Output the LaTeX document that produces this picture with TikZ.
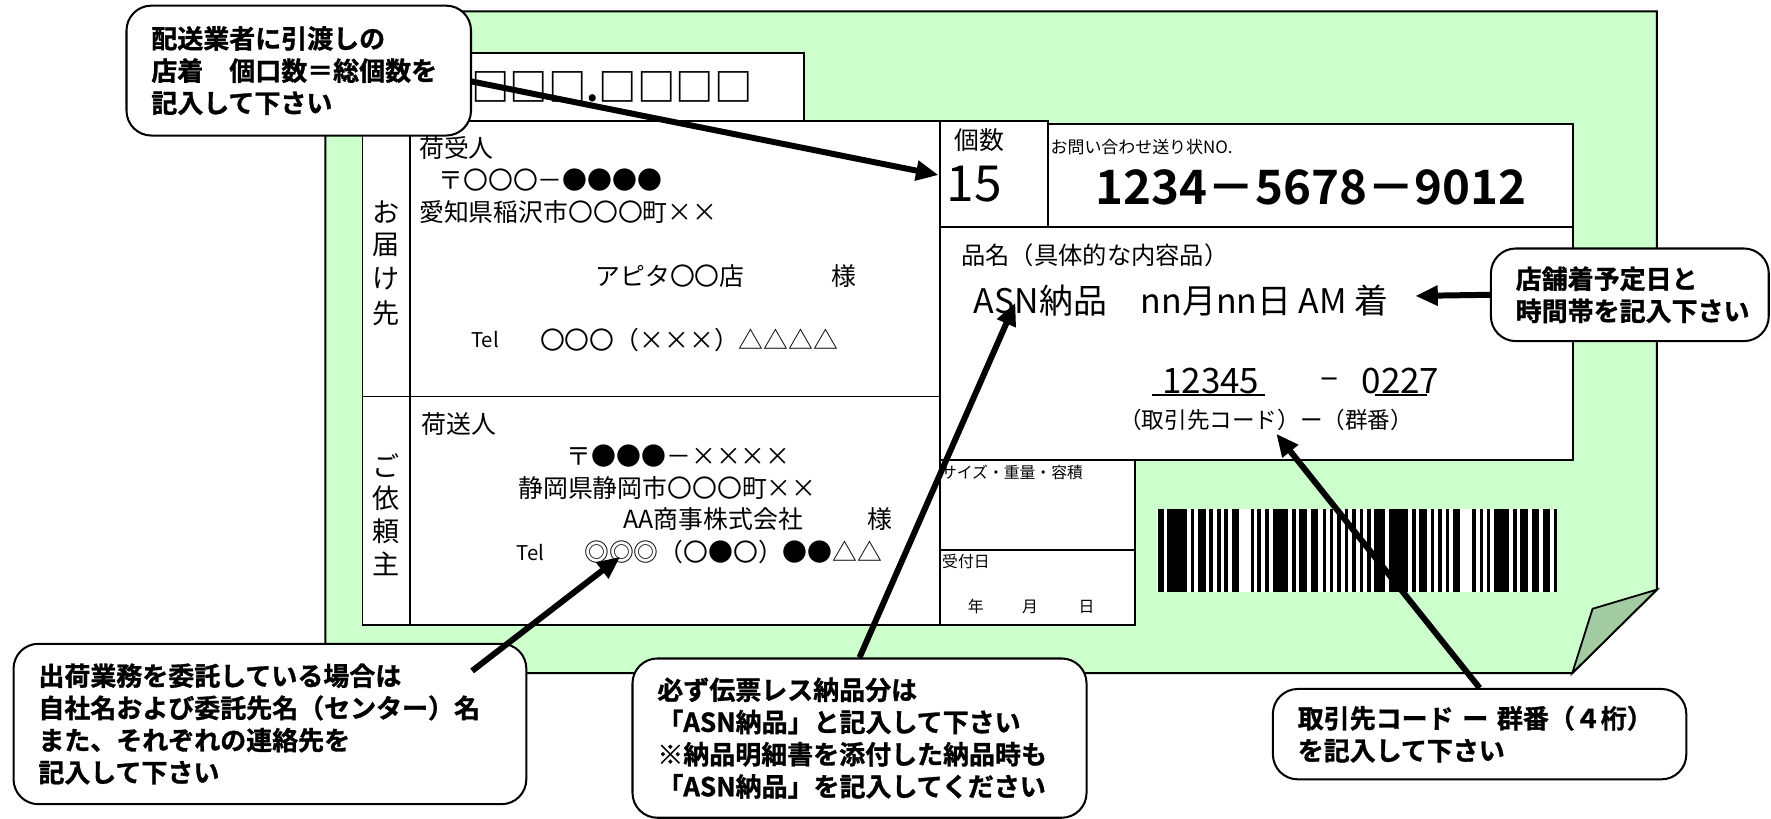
\documentclass[tikz,border=0pt]{standalone}
\usepackage{fontspec}
\setmainfont{Noto Sans CJK JP}[BoldFont=Noto Sans CJK JP Bold]
\newfontfamily\calloutfont{Noto Sans CJK JP Bold}[FakeBold=1.2]
\usetikzlibrary{arrows.meta}
\definecolor{cardgreen}{HTML}{CCFFCC}
\definecolor{foldgreen}{HTML}{A3CCA3}
\tikzset{
  card/.style={draw=black, line width=1.8pt, fill=cardgreen, line join=miter},
  fold/.style={draw=black, line width=1.6pt, fill=foldgreen},
  formbox/.style={draw=black, line width=1.6pt, fill=white},
  formline/.style={draw=black, line width=1.6pt},
  callout/.style={draw=black, line width=1.8pt, fill=white, rounded corners=22pt,
    inner xsep=22pt, inner ysep=0pt, align=left,
    font=\calloutfont\fontsize{23}{28.5}\selectfont},
  pointer/.style={line width=5.3pt, -{Triangle[length=20pt,width=17pt]}},
  ftext/.style={inner sep=0pt, anchor=west, font=\fontsize{22}{24}\selectfont},
  ctext/.style={inner sep=0pt, font=\fontsize{22}{24}\selectfont},
  vlabel/.style={inner sep=0pt, font=\fontsize{24}{26}\selectfont},
  smalltext/.style={inner sep=0pt, anchor=west, font=\fontsize{14}{16}\selectfont},
  bar/.style={fill=black, draw=none},
}
\begin{document}
\begin{tikzpicture}[x=1pt,y=-1pt]
\useasboundingbox (0,0) rectangle (1568,725);
\fill[white] (0,0) rectangle (1568,725);

% card
\draw[card] (288,10) -- (1467,10) -- (1467,522) -- (1392,596) -- (288,596) -- cycle;
\draw[fold] (1467,522) -- (1410,539) -- (1392,596) -- cycle;

% top number box
\draw[formbox] (380,47) rectangle (712,107);
\node[inner sep=0pt, anchor=west, font=\bfseries\fontsize{34}{36}\selectfont] (num) at (417,77) {□□□.□□□□};

% left block
\draw[formbox] (321,107) rectangle (832,553);
\draw[formline] (363,107) -- (363,553);
\draw[formline] (321,351) -- (832,351);

% right boxes
\draw[formbox] (832,107) rectangle (928,201);
\draw[formbox] (928,110) rectangle (1393,201);
\draw[formbox] (832,201) rectangle (1393,407);
\draw[formbox] (832,407) rectangle (1005,487);
\draw[formbox] (832,487) rectangle (1005,553);

% vertical labels
\node[vlabel] (v1) at (342,188) {お};
\node[vlabel] (v2) at (342,217) {届};
\node[vlabel] (v3) at (342,247) {け};
\node[vlabel] (v4) at (342,277) {先};
\node[vlabel] (w1) at (342,412) {ご};
\node[vlabel] (w2) at (342,441) {依};
\node[vlabel] (w3) at (342,470) {頼};
\node[vlabel] (w4) at (342,499) {主};

% consignee
\node[ftext] (r0) at (371,131) {荷受人};
\node[ftext] (r1) at (388,159) {〒〇〇〇－●●●●};
\node[ftext] (r2) at (371,188) {愛知県稲沢市〇〇〇町××};
\node[ftext] (r3) at (527,244) {アピタ〇〇店};
\node[ftext] (r4) at (736,244) {様};
\node[smalltext, font=\fontsize{18}{20}\selectfont] (r5) at (417,301) {Tel};
\node[ftext] (r6) at (478,301) {〇〇〇（×××）△△△△};

% sender
\node[ftext] (s0) at (373,375) {荷送人};
\node[ctext] (s1) at (601,404) {〒●●●－××××};
\node[ctext] (s2) at (591,432) {静岡県静岡市〇〇〇町××};
\node[ftext] (s3) at (552,460) {AA商事株式会社};
\node[ftext] (s4) at (768,460) {様};
\node[smalltext, font=\fontsize{18}{20}\selectfont] (s5) at (457,489) {Tel};
\node[ftext] (s6) at (517,489) {◎◎◎（〇●〇）●●△△};

% count / invoice
\node[ftext] (k0) at (845,124) {個数};
\node[inner sep=0pt, anchor=west, font=\fontsize{44}{46}\selectfont] (k1) at (838,163) {15};
\node[smalltext, font=\fontsize{15}{17}\selectfont] (i0) at (930,130) {お問い合わせ送り状NO.};
\node[inner sep=0pt, font=\bfseries\fontsize{42}{44}\selectfont] (i1) at (1161,166) {1234－5678－9012};

% item name
\node[ftext, font=\fontsize{21.5}{23}\selectfont] (h0) at (851,226) {品名（具体的な内容品）};
\node[ftext, font=\fontsize{30}{32}\selectfont] (h1) at (862,266) {ASN納品　nn月nn日 AM 着};
\node[inner sep=0pt, font=\fontsize{31}{33}\selectfont] (h2) at (1072,337) {12345};
\node[inner sep=0pt, font=\fontsize{30}{32}\selectfont] (h3) at (1177,339) {–};
\node[inner sep=0pt, font=\fontsize{31}{33}\selectfont] (h4) at (1240,337) {0227};
\draw[line width=1.6pt] (1020,350) -- (1120,350);
\draw[line width=1.6pt] (1217,350) -- (1263,350);
\node[ctext, font=\fontsize{20}{22}\selectfont] (h5) at (1121,372) {（取引先コード）ー（群番）};

% size / date
\node[smalltext] (z0) at (833,418) {サイズ・重量・容積};
\node[smalltext] (d0) at (834,497) {受付日};
\node[inner sep=0pt, font=\fontsize{14}{16}\selectfont] (d1) at (864,537) {年};
\node[inner sep=0pt, font=\fontsize{14}{16}\selectfont] (d2) at (912,537) {月};
\node[inner sep=0pt, font=\fontsize{14}{16}\selectfont] (d3) at (962,537) {日};

% barcode
\fill[white] (1024.6,451) rectangle (1378.8,524);
\begin{scope}[shift={(1018.15,0)}, xscale=0.29512]
\foreach \a/\b in {24/42,52/110,123/133,145/168,178/188,200/212,222/233,246/268,
  303/313,322/333,345/357,370/413,427/437,447/470,484/505,518/528,540/550,562/572,
  585/595,607/618,630/640,652/662,672/705,718/775,787/797,808/832,843/853,865/875,
  887/897,908/930,967/977,990/1000,1012/1020,1032/1077,1090/1100,1110/1133,
  1145/1166,1180/1200,1212/1222}
  \fill[bar] (\a,451) rectangle (\b,524);
\end{scope}

% callouts
\node[callout, minimum width=305pt, minimum height=115pt, text width=261pt] (c1) at (264.5,62.5)
  {配送業者に引渡しの\\店着　個口数＝総個数を\\記入して下さい};
\node[callout, minimum width=246pt, minimum height=82pt, text width=202pt] (c2) at (1443,261)
  {店舗着予定日と\\時間帯を記入下さい};
\node[callout, minimum width=454pt, minimum height=142pt, text width=410pt] (c3) at (239,641)
  {出荷業務を委託している場合は\\自社名および委託先名（センター）名\\また、それぞれの連絡先を\\記入して下さい};
\node[callout, minimum width=402pt, minimum height=141pt, text width=358pt] (c4) at (761,653.5)
  {必ず伝票レス納品分は\\「ASN納品」と記入して下さい\\※納品明細書を添付した納品時も\\「ASN納品」を記入してください};
\node[callout, minimum width=366pt, minimum height=80pt, text width=322pt] (c5) at (1310,650)
  {取引先コード ー 群番（４桁）\\を記入して下さい};

% arrows
\coordinate (a1s) at (417,72);
\coordinate (a1t) at (831,155);
\coordinate (a2t) at (1253,262);
\coordinate (a3s) at (418,594);
\coordinate (a3t) at (549,493);
\coordinate (a4t) at (899,268);
\coordinate (a5t) at (1130,384);
\draw[pointer] (a1s) -- (a1t);
\draw[pointer] (c2.west) -- (a2t);
\draw[pointer] (a3s) -- (a3t);
\draw[pointer] (c4.north) -- (a4t);
\draw[pointer] (c5.north) -- (a5t);
\end{tikzpicture}
\end{document}
